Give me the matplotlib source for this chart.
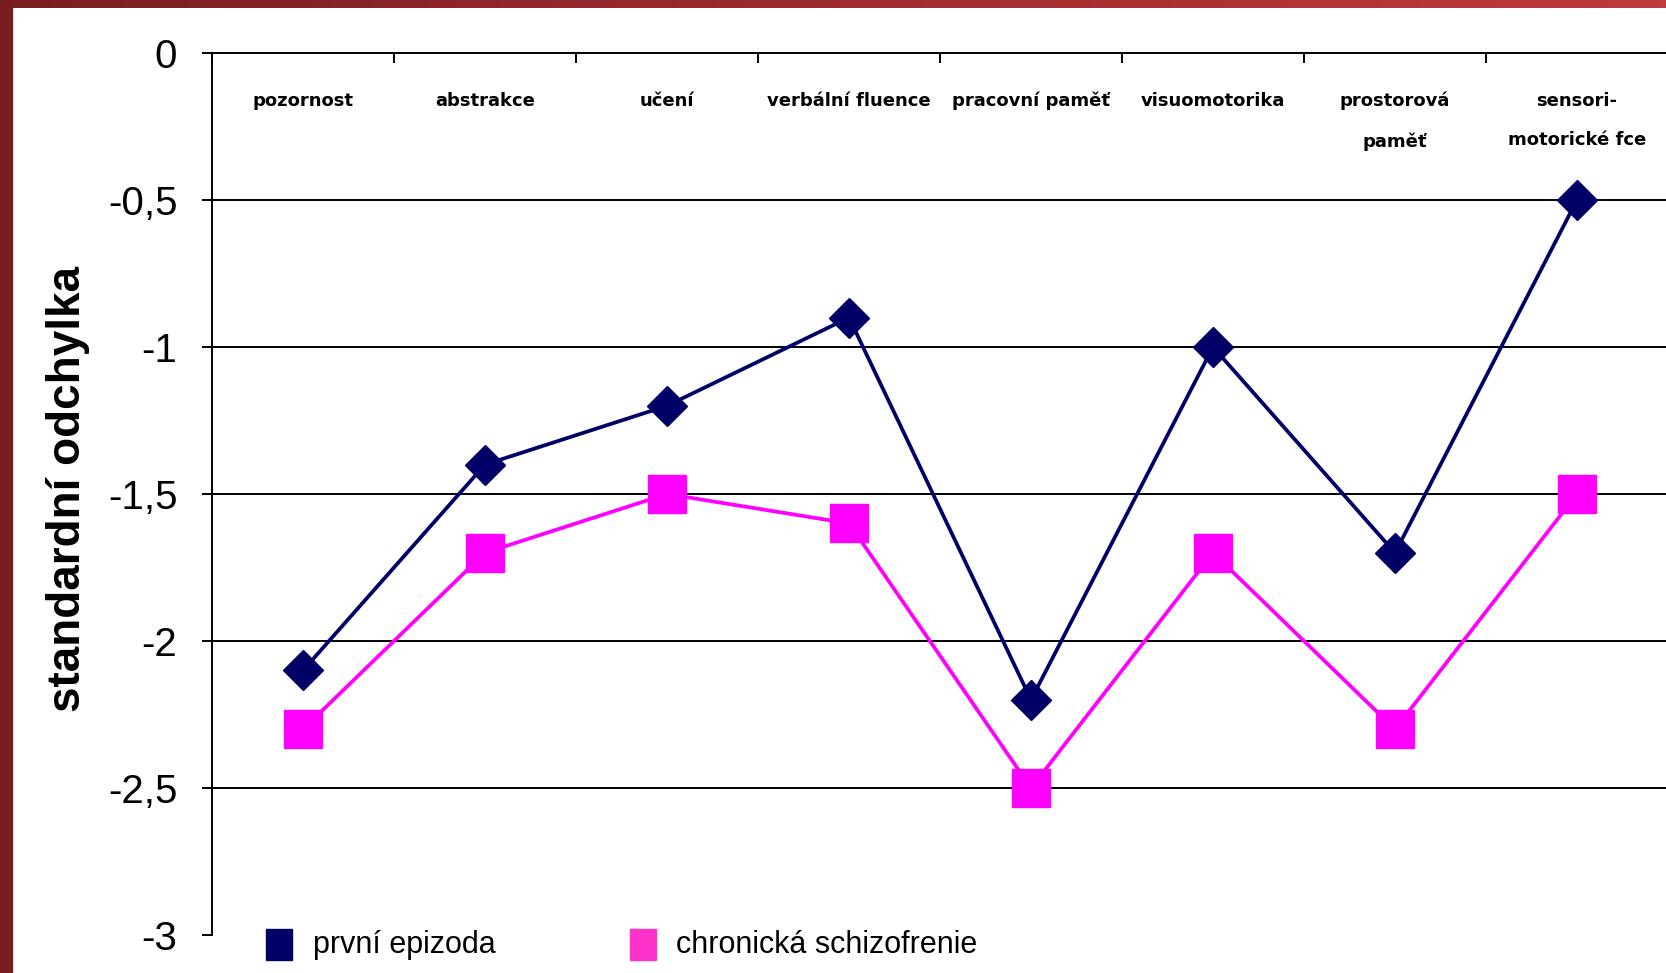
import numpy as np
import matplotlib
matplotlib.use("Agg")
import matplotlib.pyplot as plt
from matplotlib.patches import Rectangle

categories = ["pozornost", "abstrakce", "učení", "verbální fluence", "pracovní paměť",
              "visuomotorika", "prostorová\npaměť", "sensori-\nmotorické fce"]
prvni_epizoda = [-2.1, -1.4, -1.2, -0.9, -2.2, -1.0, -1.7, -0.5]
chronicka = [-2.3, -1.7, -1.5, -1.6, -2.5, -1.7, -2.3, -1.5]
y_ticks = [0, -0.5, -1, -1.5, -2, -2.5, -3]
y_tick_labels = ["0", "-0,5", "-1", "-1,5", "-2", "-2,5", "-3"]
series_names = ["první epizoda", "chronická schizofrenie"]

navy = "#000066"
magenta = "#FF00FF"

W, H = 1666, 973
fig = plt.figure(figsize=(W / 100, H / 100), dpi=100)
fig.patch.set_facecolor("white")

ax = fig.add_axes([212 / W, 38 / H, 1456 / W, 882 / H])
x = np.arange(len(categories)) + 0.5

# horizontal grid lines (not at 0 or -3)
for v in y_ticks[1:-1]:
    ax.axhline(v, color="black", lw=1.4, zorder=1)

ax.plot(x, prvni_epizoda, color=navy, lw=2.7, marker="D", ms=20, zorder=3)
ax.plot(x, chronicka, color=magenta, lw=2.7, marker="s", ms=27, zorder=4)

ax.set_xlim(0, len(categories))
ax.set_ylim(-3, 0)

ax.xaxis.tick_top()
ax.set_xticks(np.arange(len(categories) + 1))
ax.tick_params(axis="x", direction="in", length=7, width=1.4, labeltop=False, labelbottom=False)
ax.set_yticks(y_ticks)
ax.set_yticklabels(y_tick_labels, fontsize=29, family="Liberation Sans")
ax.tick_params(axis="y", direction="out", length=7, width=1.4, pad=18)

for s in ["bottom", "right"]:
    ax.spines[s].set_visible(False)
for s in ["top", "left"]:
    ax.spines[s].set_linewidth(1.4)
ax.spines["top"].set_zorder(5)

for xi, lab in zip(x, categories):
    ax.text(xi, -0.132, lab, ha="center", va="top", fontsize=13, fontweight="bold",
            family="DejaVu Sans", linespacing=2.5)

fig.text(68 / W, 1 - 489 / H, "standardní odchylka", rotation=90, ha="center", va="center",
         fontsize=33, fontweight="bold", family="Liberation Sans")

# legend
leg_y = 1 - 945 / H
for (sx, tx), name, col in zip([(266, 313), (630, 676)], series_names, [navy, "#FF33CC"]):
    fig.patches.append(Rectangle((sx / W, leg_y - 15 / H), 26 / W, 31 / H,
                                 transform=fig.transFigure, color=col))
    fig.text(tx / W, leg_y, name, ha="left", va="center", fontsize=22, family="Liberation Sans")

# red frame
fig.patches.append(Rectangle((0, 0), 12 / W, 1, transform=fig.transFigure,
                             color="#781E22", zorder=10))
top = fig.add_axes([0, 1 - 8 / H, 1, 8 / H], zorder=10)
grad = np.linspace(0, 1, 256).reshape(1, -1)
cmap = matplotlib.colors.LinearSegmentedColormap.from_list("frame", ["#7A1E22", "#C0393C"])
top.imshow(grad, aspect="auto", cmap=cmap, extent=[0, 1, 0, 1])
top.axis("off")

fig.savefig("out.png", dpi=100)
